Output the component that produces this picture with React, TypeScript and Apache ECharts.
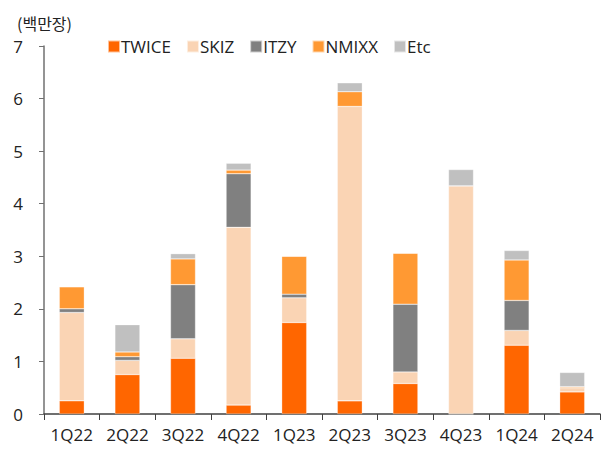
import React, { useEffect, useRef } from "react";
import * as echarts from "echarts";

const categories = ["1Q22", "2Q22", "3Q22", "4Q22", "1Q23", "2Q23", "3Q23", "4Q23", "1Q24", "2Q24"];
const seriesNames = ["TWICE", "SKIZ", "ITZY", "NMIXX", "Etc"];
const twice = [0.25, 0.75, 1.06, 0.17, 1.74, 0.25, 0.58, 0, 1.31, 0.42];
const skiz = [1.68, 0.27, 0.37, 3.38, 0.47, 5.6, 0.22, 4.34, 0.28, 0.08];
const itzy = [0.07, 0.07, 1.03, 1.02, 0.07, 0, 1.29, 0, 0.57, 0];
const nmixx = [0.42, 0.09, 0.49, 0.07, 0.72, 0.28, 0.97, 0, 0.77, 0.02];
const etc = [0, 0.52, 0.1, 0.13, 0, 0.17, 0, 0.31, 0.18, 0.27];
const colors = ["#FF6600", "#FAD4B4", "#808080", "#FF9933", "#C0C0C0"];
const yTicks = [0, 1, 2, 3, 4, 5, 6, 7];

export default function App() {
  const ref = useRef<HTMLDivElement>(null);
  useEffect(() => {
    const chart = echarts.init(ref.current!, null, { renderer: "svg" });
    const data = [twice, skiz, itzy, nmixx, etc];
    const font = "'Open Sans', 'Noto Sans CJK KR', sans-serif";
    chart.setOption({
      animation: false,
      textStyle: { fontFamily: font },
      title: {
        text: "(백만장)",
        left: 17,
        top: 13,
        padding: 0,
        textStyle: { fontSize: 16, lineHeight: 20, fontWeight: "normal", color: "#222", fontFamily: "'Noto Sans CJK KR', sans-serif" },
      },
      legend: {
        data: seriesNames,
        left: 107,
        top: 38,
        padding: 0,
        itemWidth: 12,
        itemHeight: 12,
        itemGap: 15,
        icon: "rect",
        textStyle: { fontSize: 17, color: "#222", padding: [0, 0, 0, -4], fontFamily: font },
      },
      grid: { left: 44, right: 8, top: 46, bottom: 36, containLabel: false },
      xAxis: {
        type: "category",
        data: categories,
        axisLine: { lineStyle: { color: "#404040", width: 1.5 } },
        axisTick: { show: true, alignWithLabel: false, length: 6, lineStyle: { color: "#404040" } },
        axisLabel: { fontSize: 17, color: "#222", margin: 12, interval: 0 },
      },
      yAxis: {
        type: "value",
        min: yTicks[0],
        max: yTicks[yTicks.length - 1],
        interval: 1,
        splitLine: { show: false },
        axisLine: { show: true, lineStyle: { color: "#707070", width: 1.5 } },
        axisTick: { show: true, length: 5, lineStyle: { color: "#707070" } },
        axisLabel: { fontSize: 17, color: "#222", margin: 21 },
      },
      series: seriesNames.map((name, i) => ({
        name,
        type: "bar",
        stack: "total",
        barWidth: 25,
        data: data[i],
        itemStyle: { color: colors[i], borderColor: "rgba(255,255,255,0.6)", borderWidth: 0.5 },
      })),
    });
    return () => chart.dispose();
  }, []);
  return <div ref={ref} style={{ position: "absolute", left: 0, top: 0, width: 608, height: 450 }} />;
}
